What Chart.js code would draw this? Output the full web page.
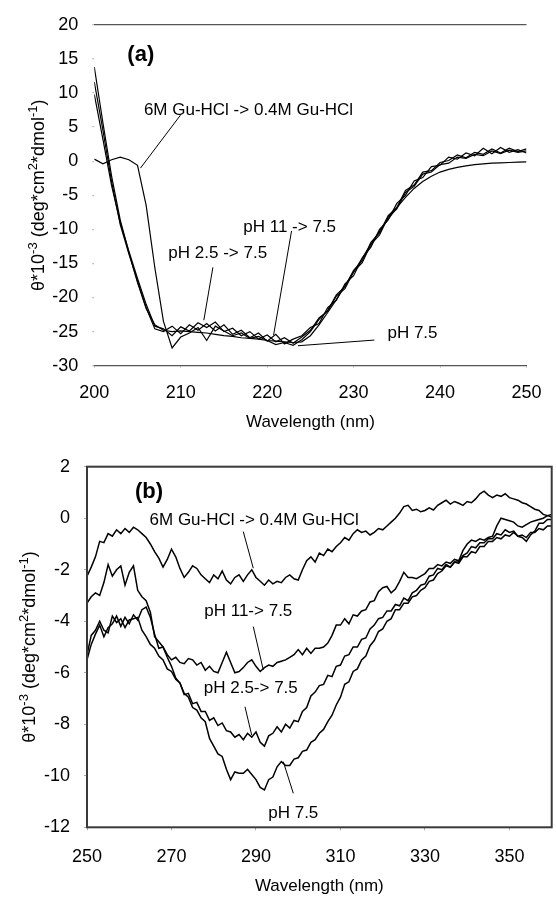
<!DOCTYPE html>
<html>
<head>
<meta charset="utf-8">
<script src="https://cdn.jsdelivr.net/npm/chart.js@4/dist/chart.umd.min.js"></script>
<style>
  html, body { margin: 0; padding: 0; background: #fff; }
  #wrap { position: relative; width: 556px; height: 897px; }
  canvas { position: absolute; left: 0; }
  #cdA { top: 0; }
  #cdB { top: 440px; }
</style>
</head>
<body>
<div id="wrap">
  <canvas id="cdA" width="556" height="440"></canvas>
  <canvas id="cdB" width="556" height="457"></canvas>
</div>
<script>
// Spettri CD: (a) UV lontano, (b) UV vicino

// --- pannello (a) ---
const wlA = [200, 201, 202, 203, 204, 205, 206, 207, 208, 209,
  210, 211, 212, 213, 214, 215, 216, 217, 218, 219,
  220, 221, 222, 223, 224, 225, 226, 227, 228, 229,
  230, 231, 232, 233, 234, 235, 236, 237, 238, 239,
  240, 241, 242, 243, 244, 245, 246, 247, 248, 249, 250];
const xTicksA = [200, 210, 220, 230, 240, 250];
const yTicksA = [-30, -25, -20, -15, -10, -5, 0, 5, 10, 15, 20];

const guA = [0.3, -0.4, 0.2, 0.6, 0.2, -0.6, -6.5, -15.6, -23.5, -27.4,
  -25.8, -25.2, -24.4, -26.3, -24.2, -24.9, -25.6, -25.2, -26.0, -25.7,
  -26.3, -26.9, -26.6, -27.0, -26.2, -25.0, -23.2, -21.9, -19.6, -18.4,
  -16.0, -14.6, -11.9, -10.5, -8.0, -6.8, -4.3, -3.5, -1.6, -1.4,
  -0.2, 0.1, 0.9, 0.5, 1.3, 1.0, 1.8, 1.2, 1.9, 1.4, 1.8];
const ph11A = [11.6, 4.5, -3.0, -9.3, -13.6, -17.6, -21.5, -24.6, -25.0, -24.2,
  -25.3, -24.0, -24.8, -23.8, -24.9, -24.0, -25.4, -24.8, -25.9, -25.2,
  -26.4, -25.4, -26.8, -26.1, -25.6, -24.4, -23.8, -21.5, -20.4, -18.0,
  -16.8, -14.2, -12.6, -10.0, -8.6, -6.2, -5.0, -2.9, -2.4, -0.8,
  -0.6, 0.6, 0.3, 1.2, 0.8, 1.9, 1.1, 2.0, 1.3, 1.7, 1.2];
const ph25A = [9.8, 3.2, -3.6, -9.0, -13.2, -17.2, -21.0, -24.2, -24.6, -25.6,
  -24.3, -24.9, -23.7, -24.4, -23.6, -25.0, -24.5, -25.6, -25.0, -26.1,
  -25.5, -26.5, -25.9, -26.7, -25.8, -24.8, -23.0, -22.0, -19.8, -18.7,
  -16.2, -14.9, -12.2, -10.8, -8.2, -7.0, -4.6, -3.7, -1.9, -1.6,
  -0.5, -0.3, 0.6, 0.4, 1.0, 0.8, 1.5, 1.1, 1.6, 1.3, 1.5];
const ph75A = [13.8, 5.6, -2.2, -8.6, -13.4, -17.8, -21.6, -24.0, -24.8, -25.0,
  -24.9, -25.0, -25.1, -25.2, -25.4, -25.6, -25.7, -25.9, -26.0, -26.1,
  -26.3, -26.4, -26.5, -26.6, -26.5, -25.6, -24.0, -22.2, -20.3, -18.3,
  -16.3, -14.2, -12.2, -10.3, -8.5, -6.8, -5.3, -4.0, -3.0, -2.2,
  -1.6, -1.2, -0.9, -0.7, -0.5, -0.4, -0.3, -0.25, -0.2, -0.15, -0.1];

// --- pannello (b) ---
const wlB = [250, 251, 252, 253, 254, 255, 256, 257, 258, 259,
  260, 261, 262, 263, 264, 265, 266, 267, 268, 269,
  270, 271, 272, 273, 274, 275, 276, 277, 278, 279,
  280, 281, 282, 283, 284, 285, 286, 287, 288, 289,
  290, 291, 292, 293, 294, 295, 296, 297, 298, 299,
  300, 301, 302, 303, 304, 305, 306, 307, 308, 309,
  310, 311, 312, 313, 314, 315, 316, 317, 318, 319,
  320, 321, 322, 323, 324, 325, 326, 327, 328, 329,
  330, 331, 332, 333, 334, 335, 336, 337, 338, 339,
  340, 341, 342, 343, 344, 345, 346, 347, 348, 349,
  350, 351, 352, 353, 354, 355, 356, 357, 358, 359, 360];
const xTicksB = [250, 270, 290, 310, 330, 350];
const yTicksB = [-12, -10, -8, -6, -4, -2, 0, 2];

const guB = [-2.25, -1.9, -1.5, -0.9, -0.95, -0.6, -0.7, -0.45, -0.6, -0.4,
  -0.55, -0.35, -0.45, -0.6, -0.75, -1.0, -1.3, -1.55, -1.9, -1.6,
  -1.2, -1.5, -1.95, -2.3, -2.1, -1.85, -1.95, -2.2, -2.35, -2.5,
  -2.2, -2.35, -2.05, -2.4, -2.55, -2.3, -2.2, -2.45, -2.2, -2.0,
  -2.3, -2.45, -2.6, -2.4, -2.55, -2.45, -2.5, -2.3, -2.2, -2.35,
  -2.4, -2.0, -1.65, -1.5, -1.7, -1.35, -1.45, -1.2, -1.3, -1.1,
  -0.95, -0.75, -0.85, -0.6, -0.45, -0.55, -0.5, -0.65, -0.55, -0.4,
  -0.45, -0.3, -0.15, 0.0, 0.2, 0.45, 0.5, 0.3, 0.35, 0.25,
  0.3, 0.4, 0.32, 0.5, 0.6, 0.7, 0.55, 0.65, 0.58, 0.5,
  0.65, 0.6, 0.75, 0.95, 1.05, 0.9, 0.8, 0.9, 0.85, 0.95,
  0.8, 0.75, 0.7, 0.6, 0.55, 0.45, 0.35, 0.3, 0.15, 0.1, 0.05];
const ph11B = [-3.3, -3.05, -2.9, -3.0, -2.5, -1.8, -2.25, -2.0, -1.85, -2.6,
  -2.1, -1.85, -2.8, -3.05, -3.2, -3.65, -4.6, -4.8, -5.0, -5.3,
  -5.5, -5.4, -5.6, -5.65, -5.45, -5.5, -5.7, -5.6, -5.9, -5.75,
  -5.95, -6.0, -5.6, -5.2, -5.6, -6.0, -5.95, -5.8, -5.6, -5.5,
  -5.75, -5.95, -5.8, -5.7, -5.75, -5.6, -5.55, -5.5, -5.4, -5.3,
  -5.1, -5.3, -5.05, -5.25, -5.05, -5.05, -5.0, -4.85, -4.55, -4.15,
  -4.15, -3.9, -4.1, -3.75, -3.8, -3.6, -3.55, -3.25, -3.2, -2.85,
  -2.7, -2.65, -2.9, -2.75, -2.45, -2.1, -2.3, -2.3, -2.35, -2.25,
  -2.15, -1.95, -1.95, -1.8, -1.85, -1.7, -1.75, -1.6, -1.65, -1.25,
  -1.0, -0.85, -0.9, -0.8, -0.85, -0.75, -0.7, -0.3, 0.0, -0.05,
  -0.1, -0.15, -0.3, -0.35, -0.25, -0.15, -0.1, -0.05, 0.0, 0.1, 0.15];
const ph25B = [-5.5, -4.9, -4.5, -4.15, -4.6, -4.25, -4.1, -3.8, -4.2, -3.85,
  -4.1, -3.75, -3.95, -3.55, -3.45, -3.85, -4.5, -5.05, -5.0, -5.4,
  -5.75, -6.2, -6.4, -6.85, -6.8, -7.2, -7.15, -7.5, -7.5, -7.85,
  -7.75, -8.05, -7.95, -8.25, -8.3, -8.5, -8.4, -8.6, -8.35, -8.5,
  -8.3, -8.7, -8.85, -8.45, -8.35, -8.1, -8.3, -8.0, -8.15, -7.85,
  -7.9, -7.5, -7.35, -6.9, -6.75, -6.5, -6.45, -6.1, -6.15, -5.75,
  -5.7, -5.35, -5.3, -5.0, -5.0, -4.7, -4.65, -4.3, -4.15, -3.9,
  -3.85, -3.6, -3.6, -3.35, -3.4, -3.1, -3.2, -2.9, -2.8, -2.6,
  -2.55, -2.25, -2.2, -1.95, -2.0, -1.8, -1.9, -1.7, -1.7, -1.45,
  -1.35, -1.1, -1.15, -0.95, -0.95, -0.8, -0.8, -0.6, -0.65, -0.45,
  -0.55, -0.5, -0.7, -0.75, -0.9, -0.65, -0.5, -0.2, -0.2, -0.05, -0.05];
const ph75B = [-5.3, -4.55, -4.35, -4.0, -4.35, -4.45, -3.8, -4.05, -3.9, -4.25,
  -3.95, -3.9, -3.85, -4.35, -4.6, -4.9, -5.05, -5.35, -5.5, -5.85,
  -5.95, -6.25, -6.4, -6.8, -6.95, -7.35, -7.45, -7.75, -7.9, -8.55,
  -8.85, -9.15, -9.25, -9.75, -10.15, -9.85, -9.9, -9.9, -9.75, -9.95,
  -10.15, -10.45, -10.55, -10.15, -10.05, -9.65, -9.45, -9.6, -9.6, -9.35,
  -9.3, -9.05, -9.0, -8.7, -8.6, -8.35, -8.2, -7.9, -7.65, -7.25,
  -6.95, -6.45, -6.35, -5.95, -5.85, -5.5, -5.35, -4.95, -4.75, -4.4,
  -4.3, -4.0, -3.9, -3.55, -3.55, -3.3, -3.3, -3.05, -3.0, -2.8,
  -2.7, -2.45, -2.4, -2.15, -2.05, -1.85, -1.9, -1.7, -1.75, -1.5,
  -1.5, -1.3, -1.35, -1.1, -1.1, -0.9, -0.9, -0.75, -0.8, -0.65,
  -0.7, -0.55, -0.7, -0.65, -0.75, -0.55, -0.55, -0.4, -0.45, -0.3, -0.3];

// etichette con linea di richiamo: [testo, x testo, y testo, x1, y1, x2, y2] in unita' dei dati
const noteA = [
  ["6M Gu-HCl -> 0.4M Gu-HCl", 217.84, 7.53, 209.97, 6.75, 205.34, -1.02],
  ["pH 2.5 -> 7.5", 214.28, -13.58, 213.72, -15.57, 212.67, -23.33],
  ["pH 11 -> 7.5", 222.6, -9.65, 222.82, -10.23, 220.74, -25.52],
  ["pH 7.5", 236.81, -25.27, 232.4, -26.24, 223.56, -27.07],
];
const noteB = [
  ["6M Gu-HCl -> 0.4M Gu-HCl", 289.57, -0.07, 286.99, -0.52, 289.36, -1.94],
  ["pH 11-> 7.5", 288.18, -3.63, 289.36, -4.21, 291.73, -5.89],
  ["pH 2.5-> 7.5", 288.77, -6.6, 287.4, -7.32, 288.98, -8.42],
  ["pH 7.5", 298.83, -11.45, 298.83, -10.68, 296.46, -9.45],
];
const yTitle = [["θ*10", false], ["-3", true], [" (deg*cm", false], ["2", true],
  ["*dmol", false], ["-1", true], [")", false]];

const FONT = "'Liberation Sans', Arial, Helvetica, sans-serif";

function serie(data, w) {
  return { data, borderColor: "#000", borderWidth: w, pointRadius: 0, fill: false, tension: 0 };
}

// disegna titoli, lettera del pannello, note e (per b) il riquadro
function decoro(letter, letterPos, notes, yTitleX, xTitleOff, box) {
  return {
    id: "decoro",
    afterDatasetsDraw(chart) {
      const { ctx, chartArea: a, scales: { x, y } } = chart;
      ctx.save();
      if (box) {
        ctx.strokeStyle = "#3a3a3a";
        ctx.lineWidth = 2;
        ctx.strokeRect(a.left, a.top, a.right - a.left, a.bottom - a.top);
      }
      ctx.fillStyle = "#000";
      ctx.strokeStyle = "#000";
      ctx.lineWidth = 1;
      ctx.textAlign = "center";
      ctx.textBaseline = "middle";
      ctx.font = "bold 22px " + FONT;
      ctx.fillText(letter, x.getPixelForValue(letterPos[0]), y.getPixelForValue(letterPos[1]));
      ctx.font = "17px " + FONT;
      notes.forEach(n => {
        ctx.fillText(n[0], x.getPixelForValue(n[1]), y.getPixelForValue(n[2]));
        ctx.beginPath();
        ctx.moveTo(x.getPixelForValue(n[3]), y.getPixelForValue(n[4]));
        ctx.lineTo(x.getPixelForValue(n[5]), y.getPixelForValue(n[6]));
        ctx.stroke();
      });
      // titolo asse x
      ctx.fillText("Wavelength (nm)", (a.left + a.right) / 2, a.bottom + xTitleOff);
      // titolo asse y con apici
      const big = "18px " + FONT, small = "13px " + FONT;
      let tot = 0;
      yTitle.forEach(p => { ctx.font = p[1] ? small : big; tot += ctx.measureText(p[0]).width; });
      ctx.translate(yTitleX, (a.top + a.bottom) / 2);
      ctx.rotate(-Math.PI / 2);
      ctx.textAlign = "left";
      ctx.textBaseline = "alphabetic";
      let px = -tot / 2;
      yTitle.forEach(p => {
        ctx.font = p[1] ? small : big;
        ctx.fillText(p[0], px, p[1] ? -7 : 0);
        px += ctx.measureText(p[0]).width;
      });
      ctx.restore();
    }
  };
}

function assi(min, max, ticks, padding, opts) {
  return Object.assign({
    type: "linear", min, max,
    afterBuildTicks: s => { s.ticks = ticks.map(v => ({ value: v })); },
    ticks: { color: "#000", font: { family: FONT, size: 18 }, padding },
  }, opts);
}

Chart.defaults.animation = false;
Chart.defaults.font.family = FONT;

new Chart(document.getElementById("cdA"), {
  type: "line",
  data: {
    labels: wlA,
    datasets: [serie(guA, 1.2), serie(ph11A, 1.2), serie(ph25A, 1.2), serie(ph75A, 1.2)],
  },
  options: {
    responsive: false,
    layout: { padding: { top: 22.3, right: 18.3, left: 0, bottom: 0 } },
    plugins: { legend: { display: false }, tooltip: { enabled: false } },
    scales: {
      x: assi(200, 250, xTicksA, 14.5, {
        afterFit: s => { s.height = 74.3; },
        grid: { drawOnChartArea: false, drawTicks: true, tickLength: 2, tickColor: "#bbb" },
        border: { display: true, color: "#555", width: 1.3 },
      }),
      y: assi(-30, 20, yTicksA, 14, {
        afterFit: s => { s.width = 94.3; },
        grid: {
          color: c => (c.tick && c.tick.value === 20 ? "#555" : "rgba(0,0,0,0)"),
          lineWidth: 1.3, drawTicks: true, tickLength: 2, tickColor: "#bbb",
        },
        border: { display: false },
      }),
    },
  },
  plugins: [decoro("(a)", [205.38, 15.53], noteA, 44, 56.3, false)],
});

new Chart(document.getElementById("cdB"), {
  type: "line",
  data: {
    labels: wlB,
    datasets: [serie(guB, 1.5), serie(ph11B, 1.5), serie(ph25B, 1.5), serie(ph75B, 1.5)],
  },
  options: {
    responsive: false,
    layout: { padding: { top: 26.7, right: 4.3, left: 0, bottom: 0 } },
    plugins: { legend: { display: false }, tooltip: { enabled: false } },
    scales: {
      x: assi(250, 360, xTicksB, 15.6, {
        afterFit: s => { s.height = 69.7; },
        grid: { drawOnChartArea: false, drawTicks: true, tickLength: 3, tickColor: "#aaa" },
        border: { display: false },
      }),
      y: assi(-12, 2, yTicksB, 14, {
        afterFit: s => { s.width = 87; },
        grid: { drawOnChartArea: false, drawTicks: true, tickLength: 3, tickColor: "#aaa" },
        border: { display: false },
      }),
    },
  },
  plugins: [decoro("(b)", [264.67, 1.03], noteB, 35, 59.4, true)],
});
</script>
</body>
</html>
